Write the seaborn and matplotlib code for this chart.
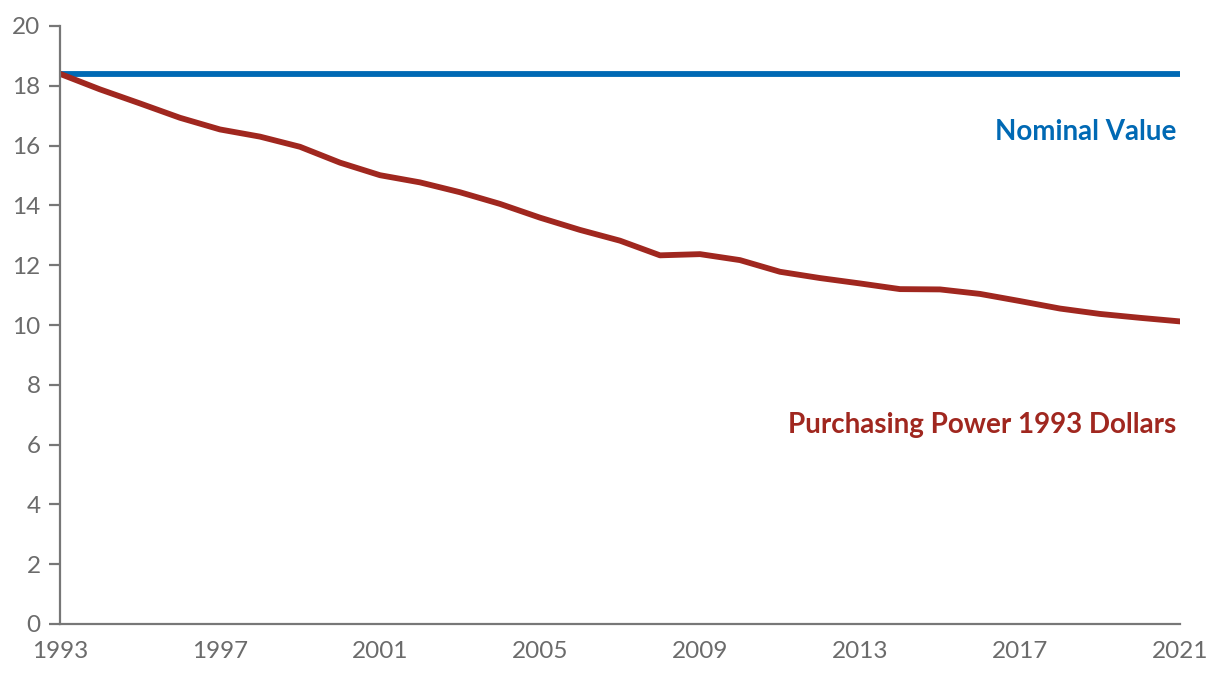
import matplotlib
matplotlib.use("Agg")
import matplotlib.pyplot as plt
import seaborn as sns
import pandas as pd

years = list(range(1993, 2022))
nominal = [18.4] * len(years)
purchasing = [18.40, 17.88, 17.41, 16.93, 16.54, 16.30, 15.96, 15.43, 15.01, 14.77,
              14.44, 14.05, 13.59, 13.18, 12.82, 12.33, 12.37, 12.17, 11.78, 11.57,
              11.39, 11.20, 11.19, 11.04, 10.80, 10.55, 10.37, 10.24, 10.12]
xticks = list(range(1993, 2022, 4))
yticks = list(range(0, 21, 2))

sns.set_theme(style="white")
plt.rcParams['font.family'] = ['Lato', 'DejaVu Sans']

df = pd.DataFrame({"year": years, "Nominal Value": nominal,
                   "Purchasing Power 1993 Dollars": purchasing})
long = df.melt(id_vars="year", var_name="series", value_name="value")

blue = "#0069b4"
red = "#a0271f"
gray = "#777777"

fig = plt.figure(figsize=(12.2, 6.78), dpi=100)
ax = fig.add_axes([60/1220, 54/678, 1120/1220, 598/678])
sns.lineplot(data=long, x="year", y="value", hue="series",
             palette={"Nominal Value": blue, "Purchasing Power 1993 Dollars": red},
             linewidth=4.2, legend=False, ax=ax)

ax.set_xlim(1993, 2021)
ax.set_ylim(0, 20)
ax.set_xticks(xticks)
ax.set_yticks(yticks)
ax.set_xlabel("")
ax.set_ylabel("")
for s in ["top", "right"]:
    ax.spines[s].set_visible(False)
for s in ["left", "bottom"]:
    ax.spines[s].set_color(gray)
    ax.spines[s].set_linewidth(1.6)
ax.tick_params(axis="y", which="both", left=True, length=8, width=1.6, color=gray,
               labelsize=17.5, labelcolor="#6b6b6b", pad=6)
ax.tick_params(axis="x", which="both", bottom=False, length=0,
               labelsize=17.5, labelcolor="#6b6b6b", pad=12)

ax.text(2020.9, 16.47, "Nominal Value", color=blue, fontsize=20, fontweight="bold",
        ha="right", va="center")
ax.text(2020.9, 6.66, "Purchasing Power 1993 Dollars", color=red, fontsize=20,
        fontweight="bold", ha="right", va="center")

fig.savefig("out.png", dpi=100)
